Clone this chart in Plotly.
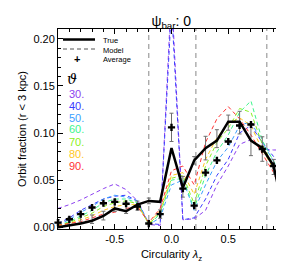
import plotly.graph_objects as go

# ---------------- data ----------------
circ = [-1.0, -0.9, -0.8, -0.7, -0.6, -0.5, -0.4, -0.3, -0.2, -0.1, 0.0,
        0.1, 0.2, 0.3, 0.4, 0.5, 0.6, 0.7, 0.8, 0.9, 1.0]

true_frac = [0.000, 0.002, 0.004, 0.007, 0.012, 0.020, 0.017, 0.024, 0.028, 0.027, 0.084,
             0.042, 0.071, 0.084, 0.092, 0.112, 0.112, 0.092, 0.084, 0.065, 0.010]

avg_frac = [0.005, 0.0085, 0.014, 0.021, 0.0255, 0.027, 0.025, 0.022, 0.004, 0.014, 0.106,
            0.041, 0.023, 0.058, 0.071, 0.091, 0.108, 0.109, 0.083, 0.065, 0.049]

err_mid = [0.004, 0.0066, 0.0096, 0.0086, 0.0124, 0.023, 0.020, 0.023, 0.028, 0.014, 0.106,
           0.043, 0.071, 0.084, 0.094, 0.111, 0.111, 0.093, 0.083, 0.064, 0.012]
err_half = [0.004, 0.004, 0.005, 0.0045, 0.0046, 0.006, 0.0053, 0.0048, 0.003, 0.0045, 0.015,
            0.011, 0.004, 0.0125, 0.0095, 0.008, 0.012, 0.017, 0.013, 0.008, 0.008]

theta_labels = ["30.", "40.", "50.", "60.", "70.", "80.", "90."]
theta_colors = ["#8c3ff0", "#3a3aff", "#3aa0ff", "#3cf58c", "#8cf020", "#ffc81e", "#ff3232"]

model_30 = [0.020, 0.024, 0.029, 0.035, 0.041, 0.046, 0.040, 0.028, 0.003, 0.002, 0.250,
            0.008, 0.009, 0.018, 0.045, 0.065, 0.088, 0.093, 0.083, 0.082, 0.082]
model_40 = [0.004, 0.010, 0.018, 0.024, 0.030, 0.033, 0.034, 0.028, 0.004, 0.003, 0.235,
            0.008, 0.010, 0.030, 0.055, 0.072, 0.100, 0.108, 0.090, 0.075, 0.060]
model_50 = [0.003, 0.008, 0.016, 0.022, 0.030, 0.034, 0.032, 0.028, 0.003, 0.010, 0.045,
            0.050, 0.018, 0.045, 0.070, 0.085, 0.108, 0.112, 0.090, 0.070, 0.055]
model_60 = [0.002, 0.006, 0.012, 0.018, 0.026, 0.030, 0.030, 0.026, 0.003, 0.014, 0.050,
            0.052, 0.020, 0.055, 0.080, 0.098, 0.122, 0.134, 0.092, 0.070, 0.045]
model_70 = [0.002, 0.005, 0.010, 0.015, 0.022, 0.026, 0.028, 0.025, 0.003, 0.016, 0.052,
            0.055, 0.025, 0.065, 0.090, 0.105, 0.126, 0.122, 0.088, 0.065, 0.040]
model_80 = [0.002, 0.004, 0.008, 0.012, 0.018, 0.022, 0.024, 0.024, 0.004, 0.018, 0.055,
            0.058, 0.035, 0.072, 0.095, 0.110, 0.116, 0.108, 0.082, 0.062, 0.032]
model_90 = [0.002, 0.004, 0.006, 0.010, 0.014, 0.016, 0.020, 0.022, 0.005, 0.020, 0.060,
            0.065, 0.045, 0.090, 0.115, 0.128, 0.115, 0.098, 0.078, 0.058, 0.028]
models = [model_30, model_40, model_50, model_60, model_70, model_80, model_90]

vlines = [-0.2, 0.215, 0.84]

x_tickvals = [-0.5, 0.0, 0.5]
x_ticktext = ["-0.5", "0.0", "0.5"]
y_tickvals = [0.00, 0.05, 0.10, 0.15, 0.20]
y_ticktext = ["0.00", "0.05", "0.10", "0.15", "0.20"]

FONT = "Liberation Sans, Arial, Helvetica, sans-serif"

fig = go.Figure()

for vals, col in zip(models, theta_colors):
    fig.add_trace(go.Scatter(x=circ, y=vals, mode="lines",
                             line=dict(color=col, width=1, dash="4px,3px"),
                             showlegend=False, hoverinfo="skip"))

fig.add_trace(go.Scatter(x=circ, y=err_mid, mode="markers",
                         marker=dict(size=1, opacity=0),
                         error_y=dict(type="data", array=err_half, visible=True,
                                      color="#6e6e6e", thickness=1, width=2),
                         showlegend=False, hoverinfo="skip"))

fig.add_trace(go.Scatter(x=circ, y=true_frac, mode="lines",
                         line=dict(color="black", width=2.5),
                         showlegend=False))

fig.add_trace(go.Scatter(x=circ, y=avg_frac, mode="markers",
                         marker=dict(symbol="cross", size=6, color="black"),
                         showlegend=False, cliponaxis=False))

for v in vlines:
    fig.add_shape(type="line", xref="x", yref="paper", x0=v, x1=v, y0=0, y1=1,
                  line=dict(color="#888888", width=1, dash="5px,4px"), layer="below")

# legend (manual), positions given in pixel space of the plot area
def px2paper_x(px):
    return (px - 50) / 227.0

def px2paper_y(py):
    return 1 - (py - 21) / 200.0

fig.add_shape(type="line", xref="paper", yref="paper",
              x0=px2paper_x(55), x1=px2paper_x(87), y0=px2paper_y(31.5), y1=px2paper_y(31.5),
              line=dict(color="black", width=2.5))
fig.add_shape(type="line", xref="paper", yref="paper",
              x0=px2paper_x(55), x1=px2paper_x(87), y0=px2paper_y(41), y1=px2paper_y(41),
              line=dict(color="#555555", width=1, dash="4px,3px"))
fig.add_annotation(xref="paper", yref="paper", x=px2paper_x(68.5), y=px2paper_y(51),
                   xanchor="center", yanchor="middle",
                   text="<b>+</b>", showarrow=False, font=dict(size=11, color="black", family=FONT))
for label, py in zip(["True", "Model", "Average"], [32, 42, 51.5]):
    fig.add_annotation(xref="paper", yref="paper", x=px2paper_x(92.5), y=px2paper_y(py),
                       text=label, showarrow=False, xanchor="left", yanchor="middle",
                       font=dict(size=7.5, color="black", family=FONT))

fig.add_annotation(xref="paper", yref="paper", x=px2paper_x(63.5), y=px2paper_y(71.5),
                   xanchor="center", yanchor="middle",
                   text="<i>ϑ</i>", showarrow=False,
                   font=dict(size=14, color="black", family="DejaVu Serif, serif"))
for i, (lab, col) in enumerate(zip(theta_labels, theta_colors)):
    fig.add_annotation(xref="paper", yref="paper", x=px2paper_x(59), y=px2paper_y(85.5 + 12 * i),
                       text=lab, showarrow=False, xanchor="left", yanchor="middle",
                       font=dict(size=11, color=col, family=FONT))

fig.update_layout(
    width=284, height=265,
    margin=dict(l=50, r=7, t=21, b=44),
    paper_bgcolor="white", plot_bgcolor="white",
    font=dict(family=FONT, size=11, color="black"),
    title=dict(text="ψ<sub>bar</sub>: 0", x=0.575, xanchor="center", y=0.97, yanchor="top",
               font=dict(size=14, family=FONT)),
    showlegend=False,
)

fig.update_xaxes(range=[-1.0, 1.0], tickvals=x_tickvals, ticktext=x_ticktext,
                 ticks="inside", ticklen=5, tickcolor="black", tickwidth=1,
                 minor=dict(dtick=0.1, tick0=0, ticks="inside", ticklen=3, tickcolor="black", showgrid=False),
                 showline=True, linecolor="black", linewidth=1, mirror="allticks",
                 showgrid=False, zeroline=False,
                 tickfont=dict(size=11, family=FONT),
                 title=dict(text="Circularity <i>λ</i><sub>z</sub>", standoff=6,
                            font=dict(size=11, family=FONT)))
fig.update_yaxes(range=[-0.0018, 0.2103], tickvals=y_tickvals, ticktext=y_ticktext,
                 ticks="inside", ticklen=5, tickcolor="black", tickwidth=1,
                 minor=dict(dtick=0.01, tick0=0, ticks="inside", ticklen=3, tickcolor="black", showgrid=False),
                 showline=True, linecolor="black", linewidth=1, mirror="allticks",
                 showgrid=False, zeroline=False,
                 tickfont=dict(size=11, family=FONT),
                 title=dict(text="Orbit fraction (r < 3 kpc)", standoff=4,
                            font=dict(size=11, family=FONT)))

fig.write_html("out.html")
